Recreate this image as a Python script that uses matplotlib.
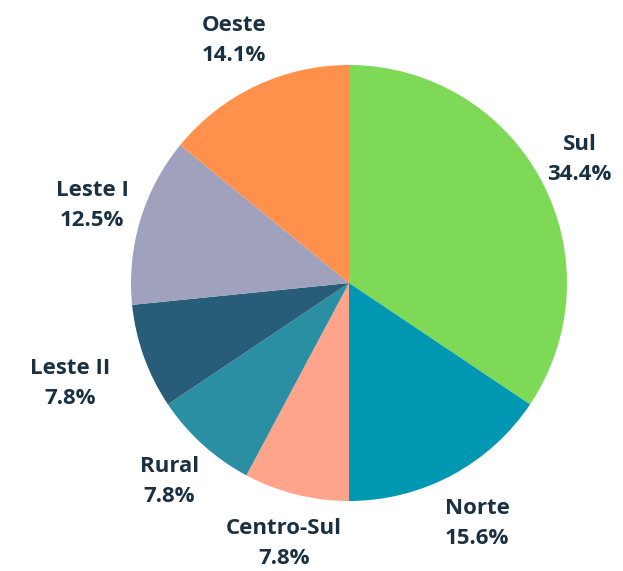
import numpy as np
import matplotlib
matplotlib.use("Agg")
import matplotlib.pyplot as plt

plt.rcParams['font.family'] = ['Open Sans', 'DejaVu Sans']

# Participação por região (ordem horária a partir do topo)
regioes = ['Sul', 'Norte', 'Centro-Sul', 'Rural', 'Leste II', 'Leste I', 'Oeste']
percentuais = [34.4, 15.6, 7.8, 7.8, 7.8, 12.5, 14.1]
cores = ['#7ED957', '#0097B2', '#FFA38B', '#2B8FA4', '#275D78', '#A0A2BD', '#FF914D']
distancias = [1.2, 1.25, 1.23, 1.23, 1.36, 1.23, 1.23]

fig = plt.figure(figsize=(6.23, 5.71), dpi=100)
ax = fig.add_axes([0, 0, 1, 1])

wedges, _ = ax.pie(percentuais, colors=cores, startangle=90, counterclock=False,
                   radius=1.0)

# rótulos centralizados fora de cada fatia
for w, nome, pct, d in zip(wedges, regioes, percentuais, distancias):
	ang = np.deg2rad((w.theta1 + w.theta2) / 2)
	ax.text(d * np.cos(ang), d * np.sin(ang), f'{nome}\n{pct:.1f}%',
			ha='center', va='center', fontsize=16, fontweight='bold',
			color='#1B3142', linespacing=1.55)

r = 218.0
ax.set_xlim(-349 / r, (623 - 349) / r)
ax.set_ylim(-288 / r, 283 / r)
ax.set_aspect('auto')
ax.axis('off')

fig.savefig('out.png', dpi=100, facecolor='white')
